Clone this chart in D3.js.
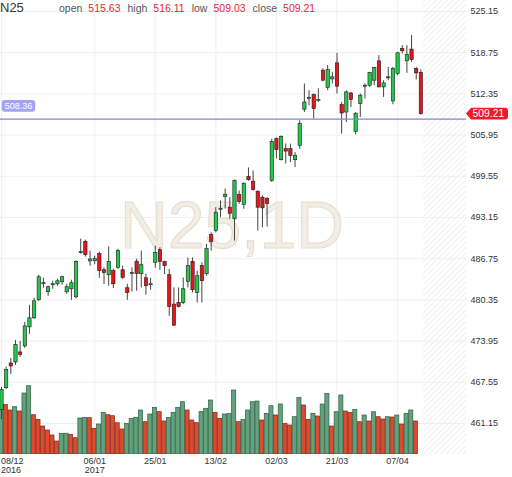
<!DOCTYPE html>
<html>
<head>
<meta charset="utf-8">
<script src="https://cdn.jsdelivr.net/npm/d3@7"></script>
<style>
  html, body { margin: 0; padding: 0; background: #fff; }
  svg { display: block; font-family: "Liberation Sans", Arial, sans-serif; }
</style>
</head>
<body>
<svg id="chart" width="512" height="477"></svg>
<script>
var symbol = "N25", period = "1D";

var days = [
  "2016-12-08","2016-12-09","2016-12-12","2016-12-13","2016-12-14","2016-12-15","2016-12-16","2016-12-19","2016-12-20","2016-12-21",
  "2016-12-22","2016-12-23","2016-12-27","2016-12-28","2016-12-29","2016-12-30","2017-01-02","2017-01-03","2017-01-04","2017-01-05",
  "2017-01-06","2017-01-09","2017-01-10","2017-01-11","2017-01-12","2017-01-13","2017-01-16","2017-01-17","2017-01-18","2017-01-19",
  "2017-01-20","2017-01-23","2017-01-24","2017-01-25","2017-01-26","2017-01-27","2017-01-30","2017-01-31","2017-02-01","2017-02-02",
  "2017-02-03","2017-02-06","2017-02-07","2017-02-08","2017-02-09","2017-02-10","2017-02-13","2017-02-14","2017-02-15","2017-02-16",
  "2017-02-17","2017-02-20","2017-02-21","2017-02-22","2017-02-23","2017-02-24","2017-02-27","2017-02-28","2017-03-01","2017-03-02",
  "2017-03-03","2017-03-06","2017-03-07","2017-03-08","2017-03-09","2017-03-10","2017-03-13","2017-03-14","2017-03-15","2017-03-16",
  "2017-03-17","2017-03-20","2017-03-21","2017-03-22","2017-03-23","2017-03-24","2017-03-27","2017-03-28","2017-03-29","2017-03-30",
  "2017-03-31","2017-04-03","2017-04-04","2017-04-05","2017-04-06","2017-04-07","2017-04-10","2017-04-11","2017-04-12","2017-04-13",
  "2017-04-18"
];

var open = [
  463.27,466.63,470.48,470.63,472.19,473.13,476.08,477.49,480.29,482.94,
  481.54,482.78,482.78,483.09,481.54,482.00,480.76,487.81,489.37,486.32,
  486.36,487.46,484.96,484.18,484.81,485.32,484.96,482.16,484.50,486.29,
  484.34,483.72,482.78,486.10,488.08,486.21,484.18,479.62,479.87,479.87,
  483.14,486.26,481.43,485.59,484.34,490.41,491.04,494.51,496.33,494.67,
  492.86,496.65,495.09,499.45,498.72,497.16,496.22,496.02,498.83,505.32,
  502.05,503.76,503.76,502.05,504.28,509.89,511.71,512.17,511.44,515.96,
  513.27,514.60,517.10,510.62,509.46,512.42,506.46,510.77,513.62,513.62,
  514.40,517.41,513.36,514.92,511.18,515.45,519.34,517.41,519.23,516.22,
  515.63
];
var high = [
  466.74,469.93,471.26,474.06,473.90,476.86,479.51,480.60,484.18,483.72,
  482.47,483.25,483.56,484.03,482.78,483.41,486.44,489.79,489.64,487.92,
  487.14,487.77,485.32,488.59,485.12,488.23,485.59,482.78,485.32,486.68,
  487.92,484.34,483.72,488.70,488.44,486.36,485.07,482.21,482.21,483.76,
  486.88,486.88,484.81,486.10,488.97,490.77,494.67,495.71,497.58,496.22,
  498.98,497.27,498.56,500.85,500.38,497.27,496.49,496.22,505.32,505.52,
  505.83,504.59,504.54,503.23,508.17,513.89,512.84,512.33,513.15,516.27,
  516.74,515.70,518.65,511.02,512.84,512.58,509.46,512.33,513.89,515.70,
  516.47,518.30,514.40,516.47,516.47,518.81,519.85,519.85,521.41,516.47,
  516.11
];
var low = [
  461.75,466.43,468.76,470.17,471.41,472.81,474.99,477.33,480.13,482.16,
  480.91,482.00,482.47,482.63,481.22,480.29,480.52,487.46,486.99,485.59,
  485.82,483.72,482.74,482.47,482.11,485.12,483.56,480.29,481.58,481.69,
  482.21,481.07,481.85,485.27,484.92,484.29,477.80,476.24,479.09,479.62,
  482.21,481.43,479.87,479.87,484.03,487.92,490.77,493.11,494.46,492.86,
  489.48,495.20,494.42,498.78,497.27,491.04,491.55,491.66,498.59,502.25,
  501.94,501.47,501.68,500.90,503.76,509.46,510.51,508.44,511.02,514.25,
  512.84,513.89,512.33,506.10,507.91,510.24,505.99,508.69,511.55,513.36,
  513.62,513.27,511.80,514.40,510.66,515.18,518.56,515.54,517.25,514.51,
  509.03
];
var close = [
  466.38,469.46,470.01,473.36,471.80,476.24,477.49,480.13,483.87,482.94,
  482.32,482.78,483.25,483.87,482.32,482.94,486.21,487.81,487.30,486.63,
  486.68,484.81,484.50,486.26,482.78,487.92,483.76,481.43,484.50,484.37,
  485.74,482.47,482.78,487.66,486.21,485.59,479.25,476.35,479.25,482.00,
  485.59,481.85,484.03,483.25,488.23,489.32,493.89,494.51,496.65,493.73,
  498.83,495.55,498.36,498.94,497.42,494.67,494.57,495.24,504.90,503.61,
  505.68,503.39,502.72,502.72,507.66,511.02,511.71,509.99,511.44,514.40,
  516.07,514.92,513.47,509.31,512.58,511.40,509.22,512.07,513.62,515.60,
  516.38,513.36,513.98,514.92,516.22,518.65,518.97,518.41,517.63,515.54,
  509.21
];
// volume (millions), no figure yet for the running session
var volume = [
  50.5,49.5,44,47.3,43,61,68.3,39.3,34.7,28,
  24,19,13,20.7,20.8,19.7,16.3,36,36.7,36.3,
  25.7,30,41.7,39.3,38.3,31.3,25,30.7,35.7,36.7,
  44,32.3,40,46.7,42.3,33,36.7,41.7,46.7,52.3,
  44,34,31.3,42.3,45.7,54,41.7,35.7,40,40.7,
  64,32.3,34.7,44,52.3,53,34,40.7,48.3,39,
  50,30.7,29,37.3,56.7,49,34.7,40.7,38,50,
  60.7,28,42.3,59,43,41.7,44.7,32.3,39,33,
  42.3,37.3,35,37.3,37,39,30,40.7,44,33,
  null
];

var priceTicks = [525.15, 518.75, 512.35, 505.95, 499.55, 493.15, 486.75, 480.35, 473.95, 467.55, 461.15];
var dateTicks = ["2016-12-08", "2017-01-06", "2017-01-25", "2017-02-13", "2017-03-02", "2017-03-21", "2017-04-07"];
var dateTickLabels = ["08/12", "06/01", "25/01", "13/02", "02/03", "21/03", "07/04"];
var yearLabels = ["2016", "2017", "", "", "", "", ""];
var refLevel = 508.36;

var dataRight = 423.2, plotRight = 466, volBase = 454;

var rows = days.map(function(d, i) {
  return {date: d, open: open[i], high: high[i], low: low[i], close: close[i], volume: volume[i], i: i};
});

var svg = d3.select("#chart");

var x = d3.scaleBand()
  .domain(days)
  .range([-0.83, dataRight])
  .paddingInner(0.29)
  .paddingOuter(0.145);
var step = x.step();
function cx(d) { return x(d) + x.bandwidth() / 2; }

var y = d3.scaleLinear()
  .domain([461.15, 525.15])
  .range([423, 11]);

var yv = d3.scaleLinear()
  .domain([0, 100])
  .range([volBase, volBase - 100]);

var defs = svg.append("defs");
defs.append("clipPath").attr("id", "plot-clip")
  .append("rect").attr("x", 0).attr("y", 0).attr("width", dataRight).attr("height", volBase);
var pat = defs.append("pattern")
  .attr("id", "hatch")
  .attr("patternUnits", "userSpaceOnUse")
  .attr("width", 4).attr("height", 4)
  .attr("patternTransform", "rotate(45)");
pat.append("line").attr("x1", 0).attr("y1", 0).attr("x2", 0).attr("y2", 4)
  .attr("stroke", "#e4e4e4").attr("stroke-width", 1.2);

// future / empty area on the right
svg.append("rect")
  .attr("x", dataRight).attr("y", 0)
  .attr("width", plotRight - dataRight).attr("height", volBase)
  .attr("fill", "url(#hatch)");

// horizontal grid
svg.append("g")
    .attr("class", "y grid")
    .attr("transform", "translate(" + plotRight + ",0)")
    .call(d3.axisLeft(y).tickValues(priceTicks).tickSize(plotRight).tickFormat(""))
  .call(function(g) { g.select(".domain").remove(); })
  .selectAll("line").attr("stroke", "#f0f0f0");

// vertical grid
svg.append("g")
    .attr("class", "x grid")
    .attr("transform", "translate(0," + volBase + ")")
    .call(d3.axisBottom(x).tickValues(dateTicks).tickSize(-volBase).tickFormat(""))
  .call(function(g) { g.select(".domain").remove(); })
  .selectAll("line").attr("stroke", "#f0f0f0");

// watermark
svg.append("text")
  .attr("x", 232).attr("y", 248)
  .attr("text-anchor", "middle")
  .attr("font-size", "66px")
  .attr("fill", "#f2eee4")
  .attr("stroke", "#e4ddcc")
  .attr("stroke-width", 1)
  .text(symbol + "," + period);

var plot = svg.append("g").attr("clip-path", "url(#plot-clip)");

// volume bars, coloured by change against the previous session
var volRows = rows.filter(function(d) { return d.volume != null; });
plot.append("g")
    .attr("class", "volume")
  .selectAll("rect")
  .data(volRows)
  .enter().append("rect")
    .attr("x", function(d) { return cx(d.date) - 0.8 - step * 0.44; })
    .attr("y", function(d) { return yv(d.volume); })
    .attr("width", step * 0.88)
    .attr("height", function(d) { return volBase - yv(d.volume); })
    .attr("fill", function(d) {
      var up = d.i === 0 || d.volume >= volume[d.i - 1];
      return up ? "#62a27d" : "#dc4a30";
    })
    .attr("stroke", function(d) {
      var up = d.i === 0 || d.volume >= volume[d.i - 1];
      return up ? "#2f5f44" : "#7c2a18";
    })
    .attr("stroke-width", 0.7);

// candles
var candle = plot.append("g")
    .attr("class", "candles")
  .selectAll("g")
  .data(rows)
  .enter().append("g");

candle.append("line")
  .attr("x1", function(d) { return cx(d.date); })
  .attr("x2", function(d) { return cx(d.date); })
  .attr("y1", function(d) { return y(d.high); })
  .attr("y2", function(d) { return y(d.low); })
  .attr("stroke", "#444")
  .attr("stroke-width", 1);

candle.append("rect")
  .attr("x", function(d) { return x(d.date); })
  .attr("y", function(d) { return y(Math.max(d.open, d.close)); })
  .attr("width", x.bandwidth())
  .attr("height", function(d) { return Math.max(1, Math.abs(y(d.open) - y(d.close))); })
  .attr("fill", function(d) { return d.close >= d.open ? "#22c84c" : "#e8131b"; })
  .attr("stroke", "#1c1c1c")
  .attr("stroke-width", 0.6);

// reference level
var ry = y(refLevel);
svg.append("line")
  .attr("x1", 0).attr("x2", plotRight)
  .attr("y1", ry).attr("y2", ry)
  .attr("stroke", "#8585cc")
  .attr("stroke-width", 1.3);
svg.append("rect")
  .attr("x", 1.7).attr("y", ry - 19)
  .attr("width", 33.5).attr("height", 11.7)
  .attr("rx", 3)
  .attr("fill", "#a3a3f3");
svg.append("text")
  .attr("x", 18.4).attr("y", ry - 13.1)
  .attr("dy", "0.35em")
  .attr("text-anchor", "middle")
  .attr("font-size", "9px")
  .attr("fill", "#fff")
  .text(d3.format(".2f")(refLevel));

// price axis
svg.append("g")
    .attr("class", "y axis")
    .attr("transform", "translate(" + (plotRight + 1) + ",0)")
    .call(d3.axisRight(y).tickValues(priceTicks).tickSize(0).tickPadding(3.5).tickFormat(d3.format(".2f")))
  .call(function(g) { g.select(".domain").remove(); })
  .selectAll("text")
    .attr("font-size", "9px")
    .attr("font-family", "Liberation Sans, Arial, sans-serif")
    .attr("fill", "#333");

// last price tag
var last = rows[rows.length - 1];
var ly = y(last.close);
svg.append("path")
  .attr("d", "M" + plotRight + "," + ly +
    " L471," + (ly - 5.9) + " L505," + (ly - 5.9) +
    " Q508," + (ly - 5.9) + " 508," + (ly - 3) +
    " L508," + (ly + 3) + " Q508," + (ly + 5.9) + " 505," + (ly + 5.9) +
    " L471," + (ly + 5.9) + " Z")
  .attr("fill", "#ee1c24");
svg.append("text")
  .attr("x", 472.5).attr("y", ly)
  .attr("dy", "0.36em")
  .attr("font-size", "10.4px")
  .attr("fill", "#fff")
  .text(d3.format(".2f")(last.close));

// date axis
var xAxis = svg.append("g")
    .attr("class", "x axis")
    .attr("transform", "translate(0," + volBase + ")")
    .call(d3.axisBottom(x).tickValues(dateTicks).tickSize(0).tickPadding(3.8)
      .tickFormat(function(d) { return dateTickLabels[dateTicks.indexOf(d)]; }));
xAxis.select(".domain").remove();
xAxis.selectAll(".tick").each(function(d, i) {
  var t = d3.select(this);
  var txt = t.select("text")
    .attr("font-size", "9px")
    .attr("font-family", "Liberation Sans, Arial, sans-serif")
    .attr("fill", "#333");
  var yr = yearLabels[i];
  var yrText = null;
  if (yr) {
    yrText = t.append("text")
      .attr("y", 12.3)
      .attr("dy", "0.71em")
      .attr("text-anchor", "middle")
      .attr("font-size", "9px")
      .attr("fill", "#333")
      .text(yr);
  }
  var w = txt.node().getComputedTextLength();
  var pos = cx(d);
  if (pos - w / 2 < 0) {
    txt.attr("text-anchor", "start").attr("x", 1 - pos);
    if (yrText) yrText.attr("text-anchor", "start").attr("x", 1 - pos);
  }
});

// header
svg.append("text")
  .attr("x", 0).attr("y", 12)
  .attr("font-size", "13px")
  .attr("fill", "#333")
  .text(symbol);

var headLabels = ["open", "high", "low", "close"];
var headValues = [last.open, last.high, last.low, last.close];
var hx = 59;
headLabels.forEach(function(lbl, i) {
  var a = svg.append("text")
    .attr("x", hx).attr("y", 12)
    .attr("font-size", "10.5px")
    .attr("fill", "#555")
    .text(lbl);
  hx += a.node().getComputedTextLength() + 6;
  var b = svg.append("text")
    .attr("x", hx).attr("y", 12)
    .attr("font-size", "10.5px")
    .attr("fill", "#e8262e")
    .text(d3.format(".2f")(headValues[i]));
  hx += b.node().getComputedTextLength() + 7;
});
</script>
</body>
</html>
